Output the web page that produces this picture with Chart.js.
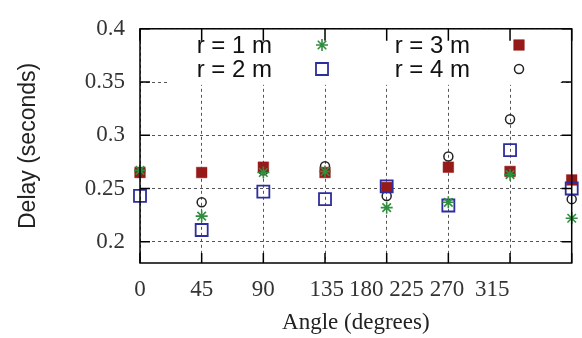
<!DOCTYPE html>
<html><head><meta charset="utf-8">
<script src="https://cdn.jsdelivr.net/npm/chart.js@4/dist/chart.umd.min.js"></script>
<style>html,body{margin:0;padding:0;background:#fff;overflow:hidden}</style>
</head><body>
<canvas id="c" width="582" height="338"></canvas>
<script>
// ---- data ----
const positions = [0, 1, 2, 3, 4, 5, 6, 7];
const r1m = [0.267, 0.224, 0.265, 0.266, 0.232, 0.237, 0.263, 0.222];
const r2m = [0.243, 0.211, 0.247, 0.240, 0.252, 0.234, 0.286, 0.250];
const r3m = [0.265, 0.265, 0.270, 0.265, 0.251, 0.270, 0.266, 0.258];
const r4m = [0.265, 0.237, 0.267, 0.271, 0.243, 0.280, 0.315, 0.240];
const seriesLabels = ['r = 1 m', 'r = 2 m', 'r = 3 m', 'r = 4 m'];
const yTicks = [0.2, 0.25, 0.3, 0.35, 0.4];
const xTickLabels = ['0', '45', '90', '135', '180', '225', '270', '315'];
const xTickLabelPos = [0, 1, 2, 3.03, 3.67, 4.32, 4.98, 5.71];

function pts(vals) { return positions.map((p, i) => ({x: p, y: vals[i]})); }

const serif = 'Liberation Serif';
const sans = 'Liberation Sans';

const framePlugin = {
  id: 'frame',
  beforeDatasetsDraw(chart) {
    const ctx = chart.ctx, a = chart.chartArea;
    ctx.save();
    ctx.fillStyle = '#fff';
    ctx.fillRect(a.left + 27, a.top + 1, a.right - a.left - 38, 55);
    ctx.restore();
  },
  afterDraw(chart) {
    const ctx = chart.ctx, a = chart.chartArea;
    const xs = chart.scales.x, ys = chart.scales.y;
    ctx.save();
    ctx.strokeStyle = '#000';
    ctx.lineWidth = 1.5;
    ctx.setLineDash([]);
    ctx.strokeRect(a.left, a.top, a.right - a.left, a.bottom - a.top);
    ctx.beginPath();
    yTicks.forEach(v => {
      const y = ys.getPixelForValue(v);
      ctx.moveTo(a.left, y); ctx.lineTo(a.left + 10, y);
      ctx.moveTo(a.right - 10, y); ctx.lineTo(a.right, y);
    });
    positions.forEach(p => {
      const x = xs.getPixelForValue(p);
      ctx.moveTo(x, a.bottom); ctx.lineTo(x, a.bottom - 10);
      ctx.moveTo(x, a.top); ctx.lineTo(x, a.top + 12);
    });
    ctx.stroke();
    // key
    const slots = [
      {tx: 272, px: 322, y: 45}, {tx: 272, px: 322, y: 69},
      {tx: 470, px: 519, y: 45}, {tx: 470, px: 519, y: 69}
    ];
    chart.data.datasets.forEach((ds, i) => {
      const s = slots[i];
      ctx.fillStyle = '#111';
      ctx.font = '24px "' + sans + '"';
      ctx.textAlign = 'right';
      ctx.textBaseline = 'middle';
      ctx.fillText(ds.label, s.tx, s.y + 1);
      ctx.fillStyle = ds.backgroundColor;
      ctx.strokeStyle = ds.borderColor;
      ctx.lineWidth = ds.pointBorderWidth;
      Chart.helpers.drawPoint(ctx, {pointStyle: ds.pointStyle, radius: ds.pointRadius, borderWidth: ds.pointBorderWidth, rotation: 0}, s.px, s.y);
    });
    ctx.restore();
  }
};

new Chart(document.getElementById('c'), {
  type: 'scatter',
  data: {
    datasets: [
      {label: seriesLabels[0], data: pts(r1m), pointStyle: 'star', pointRadius: 6, pointHoverRadius: 6,
       borderColor: '#2f8f3f', backgroundColor: '#2f8f3f', pointBorderWidth: 1.6, clip: false},
      {label: seriesLabels[1], data: pts(r2m), pointStyle: 'rect', pointRadius: 8.5, pointHoverRadius: 8.5,
       borderColor: '#2d2d9e', backgroundColor: 'rgba(0,0,0,0)', pointBorderWidth: 1.8, clip: false},
      {label: seriesLabels[2], data: pts(r3m), pointStyle: 'rect', pointRadius: 7.5, pointHoverRadius: 7.5,
       borderColor: '#961a1a', backgroundColor: '#961a1a', pointBorderWidth: 0.5, clip: false},
      {label: seriesLabels[3], data: pts(r4m), pointStyle: 'circle', pointRadius: 4.5, pointHoverRadius: 4.5,
       borderColor: '#222', backgroundColor: 'rgba(0,0,0,0)', pointBorderWidth: 1.5, clip: false}
    ]
  },
  options: {
    responsive: false,
    animation: false,
    devicePixelRatio: 1,
    layout: {padding: {top: 22, right: 1, left: 0, bottom: 0}},
    plugins: {legend: {display: false}, tooltip: {enabled: false}},
    scales: {
      x: {
        type: 'linear', position: 'bottom', min: 0, max: 7, weight: 0,
        afterBuildTicks: s => { s.ticks = positions.map(v => ({value: v})); },
        ticks: {display: false},
        grid: {color: '#555', lineWidth: 1, drawTicks: false},
        border: {display: false, dash: [3, 3]},
        afterFit: s => { s.height = 0; }
      },
      x2: {
        type: 'linear', position: 'bottom', min: 0, max: 7, weight: 1,
        afterBuildTicks: s => { s.ticks = xTickLabelPos.map(v => ({value: v})); },
        ticks: {autoSkip: false, minRotation: 0, maxRotation: 0, padding: 13, color: '#333',
                font: {family: serif, size: 23}, callback: (v, i) => xTickLabels[i]},
        grid: {display: false, drawTicks: false},
        border: {display: false},
        title: {display: true, text: 'Angle (degrees)', color: '#222',
                font: {family: serif, size: 23}, padding: {top: 0, bottom: 1}},
        afterFit: s => { s.height = 75; }
      },
      y: {
        type: 'linear', position: 'left', min: 0.18, max: 0.4,
        afterBuildTicks: s => { s.ticks = yTicks.map(v => ({value: v})); },
        ticks: {padding: 15, color: '#333', font: {family: serif, size: 23}, callback: v => String(v)},
        grid: {color: '#555', lineWidth: 1, drawTicks: false},
        border: {display: false, dash: [3, 3]},
        title: {display: true, text: 'Delay (seconds)', color: '#222',
                font: {family: sans, size: 23}, padding: {top: 15, bottom: 0}},
        afterFit: s => { s.width = 140; }
      }
    }
  },
  plugins: [framePlugin]
});
</script>
</body></html>
